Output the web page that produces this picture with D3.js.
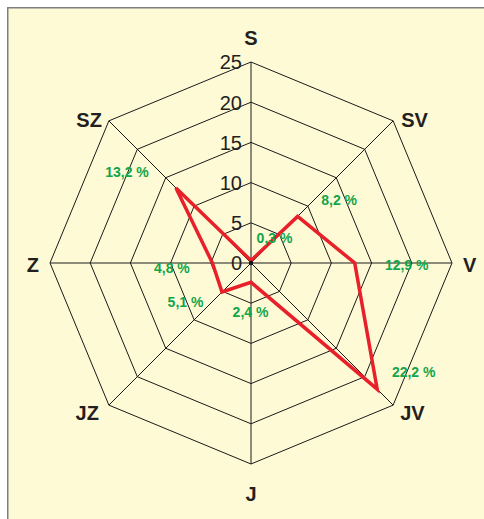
<!DOCTYPE html>
<html>
<head>
<meta charset="utf-8">
<script src="https://cdn.jsdelivr.net/npm/d3@7"></script>
<style>
  html, body { margin: 0; padding: 0; background: #ffffff; }
  svg { display: block; }
  text { font-family: "Liberation Sans", Arial, Helvetica, sans-serif; }
</style>
</head>
<body>
<svg id="chart" width="484" height="519"></svg>
<script>
// ---- data ----
const directions = ["S", "SV", "V", "JV", "J", "JZ", "Z", "SZ"];
const values = [0.3, 8.2, 12.9, 22.2, 2.4, 5.1, 4.8, 13.2];
const tickValues = [0, 5, 10, 15, 20, 25];

// ---- layout ----
const W = 484, H = 519;
const cx = 251, cy = 263, R = 201;
const svg = d3.select("#chart");

// background panel (clipped at right/bottom like the reference)
svg.append("rect")
  .attr("x", 7.75).attr("y", 7.75)
  .attr("width", W + 20).attr("height", H + 20)
  .attr("fill", "#FFFAD6")
  .attr("stroke", "#7f7f7f")
  .attr("stroke-width", 1.5);

const r = d3.scaleLinear().domain([0, 25]).range([0, R]);
const n = directions.length;
const angle = i => i * 2 * Math.PI / n;

const g = svg.append("g").attr("transform", `translate(${cx},${cy})`);

// rings
const ringLine = d3.lineRadial().angle((d, i) => angle(i)).radius(d => r(d)).curve(d3.curveLinearClosed);
g.selectAll("path.ring")
  .data(tickValues.filter(t => t > 0))
  .join("path")
  .attr("class", "ring")
  .attr("d", t => ringLine(directions.map(() => t)))
  .attr("fill", "none")
  .attr("stroke", "#1a1a1a")
  .attr("stroke-width", 1);

// spokes
g.selectAll("line.spoke")
  .data(directions)
  .join("line")
  .attr("class", "spoke")
  .attr("x1", 0).attr("y1", 0)
  .attr("x2", (d, i) => r(25) * Math.sin(angle(i)))
  .attr("y2", (d, i) => -r(25) * Math.cos(angle(i)))
  .attr("stroke", "#1a1a1a")
  .attr("stroke-width", 1);

// tick labels
g.selectAll("text.tick")
  .data(tickValues)
  .join("text")
  .attr("class", "tick")
  .attr("x", -9)
  .attr("y", t => -r(t))
  .attr("dy", "0.37em")
  .attr("text-anchor", "end")
  .attr("font-size", 20)
  .attr("fill", "#231f20")
  .text(t => t);

// data polygon
const dataLine = d3.lineRadial().angle((d, i) => angle(i)).radius(d => r(d)).curve(d3.curveLinearClosed);
g.append("path")
  .attr("d", dataLine(values))
  .attr("fill", "none")
  .attr("stroke", "#E8202A")
  .attr("stroke-width", 3.5)
  .attr("stroke-linejoin", "miter");

// centre dot
g.append("circle").attr("r", 2.2).attr("fill", "#1a1a1a");

// direction labels (offsets from each outer vertex)
const dirOffsets = [[0, -24, "middle"], [8, -1, "start"], [11, 2, "start"], [7, 8, "start"],
                    [0, 30, "middle"], [-10, 8, "end"], [-11, 2, "end"], [-7, -1, "end"]];
g.selectAll("text.dir")
  .data(directions)
  .join("text")
  .attr("class", "dir")
  .attr("x", (d, i) => r(25) * Math.sin(angle(i)) + dirOffsets[i][0])
  .attr("y", (d, i) => -r(25) * Math.cos(angle(i)) + dirOffsets[i][1])
  .attr("dy", "0.36em")
  .attr("text-anchor", (d, i) => dirOffsets[i][2])
  .attr("font-size", 20)
  .attr("font-weight", "bold")
  .attr("fill", "#231f20")
  .text(d => d);

// value labels (offsets from each data point)
const fmt = d3.formatLocale({ decimal: ",", thousands: " ", grouping: [3], currency: ["", ""] }).format(".1f");
const valOffsets = [[23.5, -22.5], [41.5, -16], [52, 2], [36.5, -17.5],
                    [-0.5, 30], [-36.5, 10], [-40.5, 5], [-49, -16.5]];
g.selectAll("text.val")
  .data(values)
  .join("text")
  .attr("class", "val")
  .attr("x", (d, i) => r(d) * Math.sin(angle(i)) + valOffsets[i][0])
  .attr("y", (d, i) => -r(d) * Math.cos(angle(i)) + valOffsets[i][1])
  .attr("dy", "0.36em")
  .attr("text-anchor", "middle")
  .attr("font-size", 14)
  .attr("font-weight", "bold")
  .attr("fill", "#10A64A")
  .text(d => fmt(d) + " %");
</script>
</body>
</html>
